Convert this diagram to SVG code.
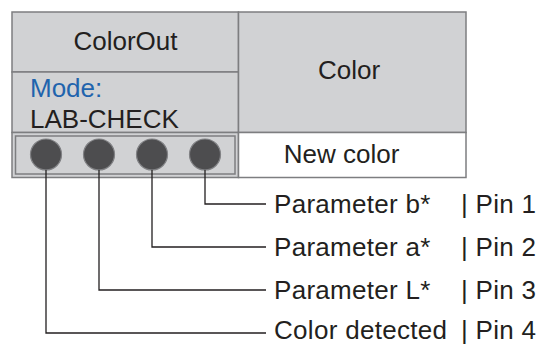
<svg xmlns="http://www.w3.org/2000/svg" width="538" height="345" viewBox="0 0 538 345">
<style>
.box{fill:#d1d2d4;stroke:#7d7e80;stroke-width:1.5}
.white{fill:#ffffff;stroke:#7d7e80;stroke-width:1.5}
.pin{fill:#4d4d4f;stroke:#808184;stroke-width:1.2}
.t{font-family:"Liberation Sans",Arial,sans-serif;font-size:26px;fill:#231f20}
.l{letter-spacing:0.3px}
.blue{fill:#1f64ad}
.conn{fill:none;stroke:#231f20;stroke-width:1.3}
</style>
<rect width="538" height="345" fill="#ffffff"/>
<g id="colorout">
<rect class="box" x="12" y="12" width="226.5" height="60"/>
<text class="t" x="125.5" y="50" text-anchor="middle">ColorOut</text>
</g>
<g id="mode">
<rect class="box" x="12" y="72" width="226.5" height="60.5"/>
<text class="t blue" x="30" y="97">Mode:</text>
<text class="t" x="30" y="128">LAB-CHECK</text>
</g>
<g id="pins">
<rect class="box" x="12" y="132.5" width="226.5" height="45"/>
<rect class="box" x="15.5" y="136" width="219.5" height="38"/>
<circle id="pin4" class="pin" cx="46" cy="154.5" r="15.5"/>
<circle id="pin3" class="pin" cx="99" cy="154.5" r="15.5"/>
<circle id="pin2" class="pin" cx="152" cy="154.5" r="15.5"/>
<circle id="pin1" class="pin" cx="205" cy="154.5" r="15.5"/>
</g>
<g id="color">
<rect class="box" x="238.5" y="12" width="227.5" height="120.5"/>
<text class="t" x="349" y="79" text-anchor="middle">Color</text>
</g>
<g id="newcolor">
<rect class="white" x="238.5" y="132.5" width="227.5" height="45"/>
<text class="t" x="341.5" y="163" text-anchor="middle">New color</text>
</g>
<g id="connectors">
<path class="conn" d="M205 170V204H266"/>
<path class="conn" d="M152 170V247H266"/>
<path class="conn" d="M99 170V290H266"/>
<path class="conn" d="M46 170V333H266"/>
</g>
<g id="labels">
<text class="t l" x="274" y="213">Parameter b*</text>
<text class="t l" x="274" y="256">Parameter a*</text>
<text class="t l" x="274" y="299">Parameter L*</text>
<text class="t l" x="274" y="339">Color detected</text>
<text class="t l" x="461" y="213">| Pin 1</text>
<text class="t l" x="461" y="256">| Pin 2</text>
<text class="t l" x="461" y="299">| Pin 3</text>
<text class="t l" x="461" y="339">| Pin 4</text>
</g>
</svg>
